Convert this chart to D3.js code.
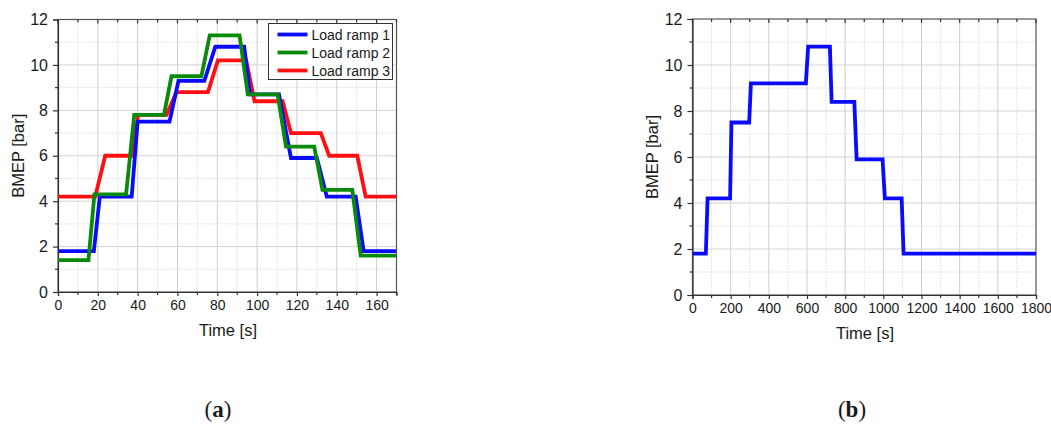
<!DOCTYPE html>
<html>
<head>
<meta charset="utf-8">
<script src="https://cdn.jsdelivr.net/npm/d3@7"></script>
<style>
  html, body { margin: 0; padding: 0; background: #ffffff; }
  svg { display: block; }
  text { font-family: "Liberation Sans", Arial, sans-serif; fill: #1a1a1a; }
</style>
</head>
<body>
<svg id="chart" width="1051" height="425"></svg>
<script>
// ---------- data ----------
// Panel (a): three load ramps, time [s] vs BMEP [bar]
const ramp1Time = [0, 18, 21, 37, 40, 56, 60.5, 73.5, 79, 93.5, 96.5, 111, 117, 130, 135, 149.5, 153.5, 170];
const ramp1BMEP = [1.8, 1.8, 4.2, 4.2, 7.5, 7.5, 9.3, 9.3, 10.8, 10.8, 8.7, 8.7, 5.9, 5.9, 4.2, 4.2, 1.8, 1.8];

const ramp2Time = [0, 15.3, 18.3, 34.2, 38.3, 53.2, 57, 72, 76.2, 91.2, 95.3, 110.3, 114.5, 128.7, 132.8, 147.8, 152, 170];
const ramp2BMEP = [1.4, 1.4, 4.3, 4.3, 7.8, 7.8, 9.5, 9.5, 11.3, 11.3, 8.7, 8.7, 6.4, 6.4, 4.5, 4.5, 1.6, 1.6];

const ramp3Time = [0, 18.7, 23.7, 37, 40.3, 54.5, 59.5, 75.3, 80.3, 94.5, 98.7, 112.8, 117, 132, 136.2, 150.3, 154.5, 170];
const ramp3BMEP = [4.2, 4.2, 6.0, 6.0, 7.8, 7.8, 8.8, 8.8, 10.2, 10.2, 8.4, 8.4, 7.0, 7.0, 6.0, 6.0, 4.2, 4.2];

const seriesNames = ["Load ramp 1", "Load ramp 2", "Load ramp 3"];
const seriesColors = ["#0a0aff", "#0a8a0a", "#ff1010"];

// Panel (b): single long ramp
const longTime = [0, 70, 79, 197, 204, 297, 306, 594, 606, 720, 729, 848, 860, 996, 1008, 1096, 1106, 1800];
const longBMEP = [1.8, 1.8, 4.2, 4.2, 7.5, 7.5, 9.2, 9.2, 10.8, 10.8, 8.4, 8.4, 5.9, 5.9, 4.2, 4.2, 1.8, 1.8];

const xTicksA = [0, 20, 40, 60, 80, 100, 120, 140, 160];
const xTicksB = [0, 200, 400, 600, 800, 1000, 1200, 1400, 1600, 1800];
const yTicks = [0, 2, 4, 6, 8, 10, 12];
const xLabel = "Time [s]";
const yLabel = "BMEP [bar]";
const panelLabels = ["a", "b"];

// ---------- drawing ----------
const svg = d3.select("#chart");

function zip(t, v) { return t.map((d, i) => ({ t: d, v: v[i] })); }

function panel(opts) {
  const { x0, x1, y0, y1, xDomain, xTicks, xMinorStep, series, legend, label, labelX, titleX, titleY } = opts;
  const g = svg.append("g");
  const x = d3.scaleLinear().domain(xDomain).range([x0, x1]);
  const y = d3.scaleLinear().domain([0, 12]).range([y1, y0]);

  // minor gridlines
  const xMinor = d3.range(xDomain[0], xDomain[1] + 1e-9, xMinorStep).filter(d => !xTicks.includes(d));
  const yMinor = d3.range(1, 12, 2);
  g.append("g").selectAll("line").data(xMinor).join("line")
    .attr("x1", d => x(d)).attr("x2", d => x(d)).attr("y1", y0).attr("y2", y1)
    .attr("stroke", "#e4e4e4").attr("stroke-width", 1).attr("stroke-dasharray", "2,1");
  g.append("g").selectAll("line").data(yMinor).join("line")
    .attr("x1", x0).attr("x2", x1).attr("y1", d => y(d)).attr("y2", d => y(d))
    .attr("stroke", "#e4e4e4").attr("stroke-width", 1).attr("stroke-dasharray", "2,1");
  // major gridlines
  g.append("g").selectAll("line").data(xTicks.filter(d => d > xDomain[0] && d < xDomain[1])).join("line")
    .attr("x1", d => x(d)).attr("x2", d => x(d)).attr("y1", y0).attr("y2", y1)
    .attr("stroke", "#cfcfcf").attr("stroke-width", 1);
  g.append("g").selectAll("line").data(yTicks.filter(d => d > 0 && d < 12)).join("line")
    .attr("x1", x0).attr("x2", x1).attr("y1", d => y(d)).attr("y2", d => y(d))
    .attr("stroke", "#d4d4d4").attr("stroke-width", 1);

  // frame
  g.append("rect").attr("x", x0).attr("y", y0).attr("width", x1 - x0).attr("height", y1 - y0)
    .attr("fill", "none").attr("stroke", "#555").attr("stroke-width", 1.2);

  // top inward ticks
  const topTicks = d3.range(xDomain[0], xDomain[1] + 1e-9, xMinorStep);
  g.append("g").selectAll("line").data(topTicks).join("line")
    .attr("x1", d => x(d)).attr("x2", d => x(d)).attr("y1", y0)
    .attr("y2", d => y0 + (xTicks.includes(d) ? 4 : 3))
    .attr("stroke", "#333").attr("stroke-width", 1.2);

  // bottom axis
  const xAxis = d3.axisBottom(x).tickValues(xTicks).tickSize(4).tickPadding(4).tickFormat(d3.format("d"));
  const gx = g.append("g").attr("transform", `translate(0,${y1})`).call(xAxis);
  gx.select(".domain").attr("stroke", "#333").attr("stroke-width", 1.2);
  gx.selectAll(".tick line").attr("stroke", "#333").attr("stroke-width", 1.2);
  gx.selectAll("text").attr("font-size", 14).attr("fill", "#2a2a2a")
    .style("font-family", "'Liberation Sans', Arial, sans-serif");
  // bottom minor ticks
  g.append("g").selectAll("line").data(xMinor).join("line")
    .attr("x1", d => x(d)).attr("x2", d => x(d)).attr("y1", y1).attr("y2", y1 + 3)
    .attr("stroke", "#333").attr("stroke-width", 1.2);

  // left axis
  const yAxis = d3.axisLeft(y).tickValues(yTicks).tickSize(5).tickPadding(5).tickFormat(d3.format("d"));
  const gy = g.append("g").attr("transform", `translate(${x0},0)`).call(yAxis);
  gy.select(".domain").attr("stroke", "#333").attr("stroke-width", 1.2);
  gy.selectAll(".tick line").attr("stroke", "#333").attr("stroke-width", 1.2);
  gy.selectAll("text").attr("font-size", 16).attr("fill", "#1a1a1a")
    .style("font-family", "'Liberation Sans', Arial, sans-serif");
  g.append("g").selectAll("line").data(yMinor).join("line")
    .attr("x1", x0 - 3).attr("x2", x0).attr("y1", d => y(d)).attr("y2", d => y(d))
    .attr("stroke", "#333").attr("stroke-width", 1.2);

  // axis titles
  g.append("text").attr("x", titleX).attr("y", y1 + 44).attr("text-anchor", "middle")
    .attr("font-size", 16.5).text(xLabel);
  g.append("text").attr("transform", `translate(${titleY},${(y0 + y1) / 2}) rotate(-90)`)
    .attr("text-anchor", "middle").attr("dy", "0.35em").attr("font-size", 16.5).text(yLabel);

  // data lines
  const line = d3.line().x(d => x(d.t)).y(d => y(d.v));
  const clipId = "clip" + label;
  g.append("clipPath").attr("id", clipId).append("rect")
    .attr("x", x0).attr("y", y0).attr("width", x1 - x0).attr("height", y1 - y0);
  g.append("g").attr("clip-path", `url(#${clipId})`).selectAll("path").data(series).join("path")
    .attr("d", d => line(d.pts)).attr("fill", "none").attr("stroke", d => d.color)
    .attr("stroke-width", 3.8).attr("stroke-linejoin", "miter").attr("stroke-linecap", "butt");

  // legend
  if (legend) {
    const lg = g.append("g");
    lg.append("rect").attr("x", legend.x).attr("y", legend.y).attr("width", legend.w).attr("height", legend.h)
      .attr("fill", "#fff").attr("stroke", "#333").attr("stroke-width", 1);
    legend.items.forEach((it, i) => {
      const yy = legend.y + 11 + i * 18;
      lg.append("line").attr("x1", legend.x + 9).attr("x2", legend.x + 39)
        .attr("y1", yy).attr("y2", yy).attr("stroke", it.color).attr("stroke-width", 3.8);
      lg.append("text").attr("x", legend.x + 43).attr("y", yy).attr("dy", "0.36em")
        .attr("font-size", 14).text(it.name);
    });
  }

  // panel label
  const pl = svg.append("text").attr("x", labelX).attr("y", 417).attr("text-anchor", "middle")
    .style("font-family", "'Liberation Serif', 'DejaVu Serif', serif").attr("font-size", 23).attr("fill", "#000");
  pl.append("tspan").text("(");
  pl.append("tspan").attr("font-weight", "bold").text(label);
  pl.append("tspan").text(")");
}

const seriesA = [
  { name: seriesNames[2], color: seriesColors[2], pts: zip(ramp3Time, ramp3BMEP) },
  { name: seriesNames[0], color: seriesColors[0], pts: zip(ramp1Time, ramp1BMEP) },
  { name: seriesNames[1], color: seriesColors[1], pts: zip(ramp2Time, ramp2BMEP) }
];

panel({
  x0: 58, x1: 396.5, y0: 19.5, y1: 292,
  xDomain: [0, 170], xTicks: xTicksA, xMinorStep: 10,
  series: seriesA,
  legend: {
    x: 268.5, y: 23.5, w: 124, h: 56,
    items: seriesNames.map((n, i) => ({ name: n, color: seriesColors[i] }))
  },
  label: panelLabels[0], labelX: 218, titleX: 228, titleY: 18
});

panel({
  x0: 692.5, x1: 1036, y0: 19, y1: 295,
  xDomain: [0, 1800], xTicks: xTicksB, xMinorStep: 100,
  series: [{ name: seriesNames[0], color: seriesColors[0], pts: zip(longTime, longBMEP) }],
  legend: null,
  label: panelLabels[1], labelX: 852, titleX: 865, titleY: 652
});
</script>
</body>
</html>
